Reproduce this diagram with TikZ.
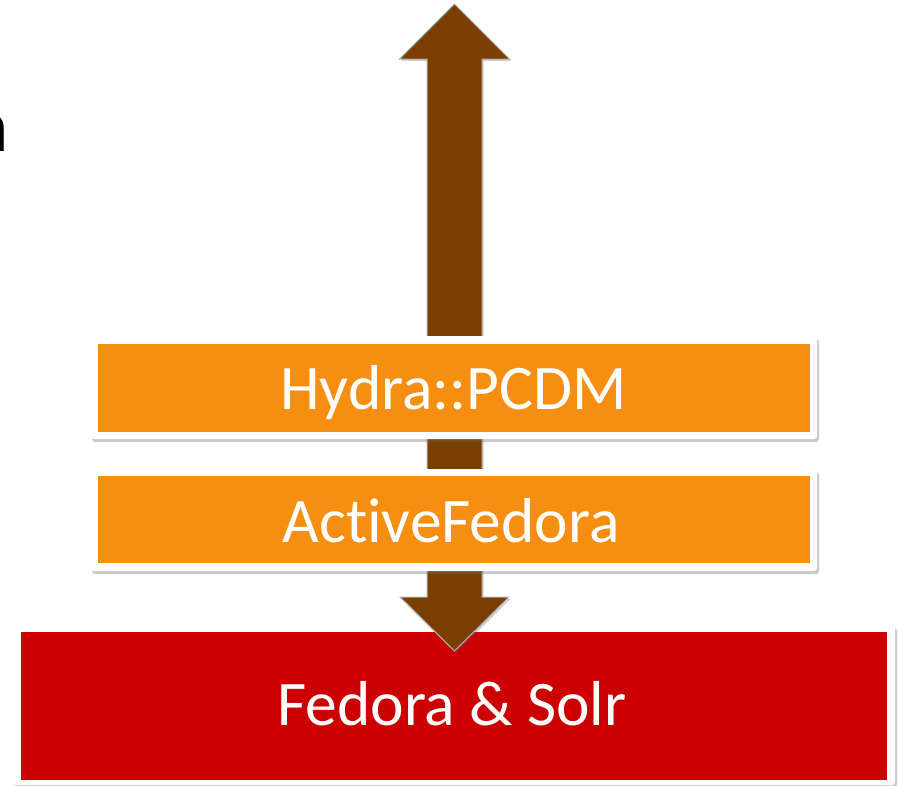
\documentclass[tikz,border=0pt]{standalone}
\usepackage{fontspec}
\setmainfont{Carlito}[Ligatures=NoCommon]
\usetikzlibrary{shadows}
\definecolor{boxorange}{RGB}{246,142,17}
\definecolor{arrowbrown}{RGB}{122,63,0}
\definecolor{boxred}{RGB}{204,0,0}
\tikzset{
  framebox/.style={fill=white, rounded corners=3pt, draw=none,
    drop shadow={shadow xshift=2pt, shadow yshift=-3pt, opacity=0.35, fill=black!60}},
  orangebox/.style={fill=boxorange, draw=none, inner sep=0pt},
  redbox/.style={fill=boxred, draw=none, inner sep=0pt},
  boxtext/.style={anchor=base, inner sep=0pt, text=white,
    font=\fontsize{63.5}{70}\selectfont},
  bigarrow/.style={fill=arrowbrown, draw=black!30, line width=1pt,
    drop shadow={shadow xshift=1.5pt, shadow yshift=-2pt, opacity=0.3, fill=black!60}}
}
\begin{document}
\begin{tikzpicture}[x=1pt,y=-1pt]
\useasboundingbox (0,0) rectangle (899,785);
% partial text at left edge
\node[anchor=base east, inner sep=0pt, font=\fontsize{76}{80}\selectfont] (clip) at (9,151) {a};
% red base
\draw[framebox] (13,625) rectangle (895,785);
\node[redbox, minimum width=866pt, minimum height=148pt] (fedorabox) at (454,706) {};
\node[boxtext] (fedora) at (452,725) {Fedora \& Solr};
% arrow
\filldraw[bigarrow] (454.5,4) -- (509.5,59) -- (482,59) -- (482,597) -- (509,597)
  -- (454.5,651) -- (400,597) -- (427,597) -- (427,59) -- (399.5,59) -- cycle;
% orange boxes
\draw[framebox] (90,336) rectangle (817,439);
\node[orangebox, minimum width=712pt, minimum height=88pt] (hydrabox) at (454,388) {};
\node[boxtext] (hydra) at (453.5,409) {Hydra::PCDM};
\draw[framebox] (90,469) rectangle (817,571);
\node[orangebox, minimum width=712pt, minimum height=87pt] (afbox) at (454,519.5) {};
\node[boxtext] (af) at (451,542) {ActiveFedora};
\end{tikzpicture}
\end{document}
